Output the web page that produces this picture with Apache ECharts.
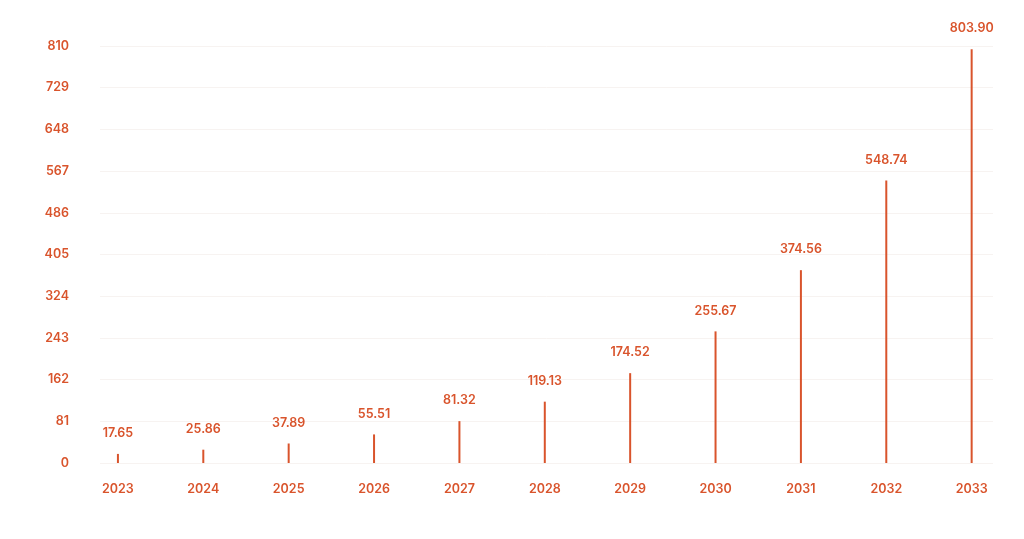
<!DOCTYPE html>
<html>
<head>
<meta charset="utf-8">
<title>Market size</title>
<script src="https://cdn.jsdelivr.net/npm/echarts@6/dist/echarts.min.js"></script>
<style>
  html, body { margin: 0; padding: 0; background: #fff; }
  #main { width: 1024px; height: 539px; }
</style>
</head>
<body>
<div id="main"></div>
<script>
// data
const years = [2023, 2024, 2025, 2026, 2027, 2028, 2029, 2030, 2031, 2032, 2033];
const values = [17.65, 25.86, 37.89, 55.51, 81.32, 119.13, 174.52, 255.67, 374.56, 548.74, 803.90];
const yMax = 810;
const yStep = 81;

const orange = '#d9542c';

const chart = echarts.init(document.getElementById('main'), null, { renderer: 'canvas' });

const option = {
  animation: false,
  backgroundColor: '#fff',
  grid: { left: 100, right: 31, top: 46, bottom: 76 },
  xAxis: {
    type: 'value',
    min: 2022.79,
    max: 2033.25,
    axisLine: { show: false },
    axisTick: { show: false },
    splitLine: { show: false },
    axisLabel: {
      customValues: years,
      margin: 20,
      color: orange,
      fontFamily: 'Inter',
      fontWeight: 600,
      fontSize: 12.5,
      formatter: v => String(v)
    }
  },
  yAxis: {
    type: 'value',
    min: 0,
    max: yMax,
    interval: yStep,
    axisLine: { show: false },
    axisTick: { show: false },
    splitLine: { lineStyle: { color: '#f7f3f1', width: 1 } },
    axisLabel: {
      margin: 31,
      color: orange,
      fontFamily: 'Inter',
      fontWeight: 600,
      fontSize: 12.5
    }
  },
  series: [
    {
      type: 'bar',
      barWidth: 2,
      data: years.map((y, i) => [y, values[i]]),
      itemStyle: { color: orange },
      label: {
        show: true,
        position: 'top',
        distance: 14,
        color: orange,
        fontFamily: 'Inter',
        fontWeight: 600,
        fontSize: 12.5,
        formatter: p => p.value[1].toFixed(2)
      }
    }
  ]
};

chart.setOption(option);
</script>
</body>
</html>
